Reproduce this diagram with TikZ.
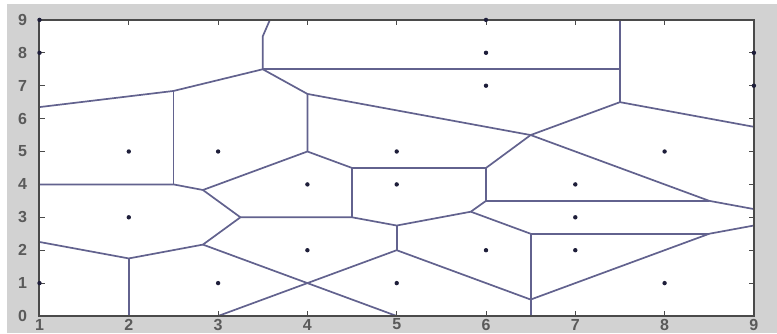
\documentclass[tikz,border=0pt]{standalone}
\usepackage{fontspec}
\setmainfont{Liberation Sans}
\definecolor{figgray}{HTML}{D2D2D2}
\definecolor{framecol}{HTML}{4A4A4A}
\definecolor{vorcol}{HTML}{62628E}
\definecolor{dotcol}{HTML}{1E1E3A}
\definecolor{labcol}{HTML}{5A5A5A}
\tikzset{
  vor/.style={draw=vorcol, line width=0.85pt, line join=round},
  frame/.style={draw=framecol, line width=1pt},
  tickmark/.style={draw=framecol, line width=0.5pt},
  seed/.style={circle, fill=dotcol, inner sep=0pt, minimum size=2.2pt},
  ylab/.style={font=\fontsize{8}{8}\selectfont\bfseries, text=labcol, inner sep=0pt},
  xlab/.style={font=\fontsize{8}{8}\selectfont\bfseries, text=labcol, inner sep=0pt}
}
\begin{document}
\begin{tikzpicture}[x=44.65pt, y=16.45pt]
\useasboundingbox (0.5577,-0.5167) rectangle (9.2587,9.6049);
\fill[white] (0.5577,-0.5167) rectangle (9.2587,9.6049);
\fill[figgray] (0.636,-0.5167) rectangle (9.2587,9.483);
\fill[white] (1,0) rectangle (9,9);
% ticks
\foreach \i in {1,...,9} {
  \draw[tickmark] (\i,0) -- (\i,0.15);
  \draw[tickmark] (\i,9) -- (\i,8.85);
  \node[xlab] (xl\i) at (\i,-0.26) {\i};
}
\foreach \j in {0,...,9} {
  \draw[tickmark] (1,\j) -- (1.06,\j);
  \draw[tickmark] (9,\j) -- (8.94,\j);
  \node[ylab] (yl\j) at (0.81,\j) {\j};
}
% Voronoi edges
\draw[vor] (1,6.35) -- (2.5,6.84) -- (3.5,7.5);
\draw[vor] (2.5,6.84) -- (2.5,4);
\draw[vor] (1,4) -- (2.5,4) -- (2.83,3.83) -- (3.25,3) -- (2.83,2.17) -- (2,1.75) -- (1,2.25);
\draw[vor] (2,1.75) -- (2,0);
\draw[vor] (2.83,3.83) -- (4,5) -- (4.5,4.5) -- (4.5,3);
\draw[vor] (3.25,3) -- (4.5,3) -- (5,2.75) -- (5.83,3.17) -- (6,3.5) -- (6,4.5) -- (4.5,4.5);
\draw[vor] (5,2.75) -- (5,2);
\draw[vor] (3,0) -- (5,2) -- (6.5,0.5) -- (8.5,2.5) -- (9,2.75);
\draw[vor] (2.83,2.17) -- (5,0);
\draw[vor] (6.5,0) -- (6.5,2.5) -- (8.5,2.5);
\draw[vor] (5.83,3.17) -- (6.5,2.5);
\draw[vor] (6,3.5) -- (8.5,3.5);
\draw[vor] (6,4.5) -- (6.5,5.5) -- (8.5,3.5) -- (9,3.25);
\draw[vor] (4,6.75) -- (6.5,5.5) -- (7.5,6.5) -- (9,5.75);
\draw[vor] (7.5,6.5) -- (7.5,9);
\draw[vor] (3.5,7.5) -- (7.5,7.5);
\draw[vor] (3.5,7.5) -- (4,6.75) -- (4,5);
\draw[vor] (3.58,9) -- (3.5,8.5) -- (3.5,7.5);
% frame
\draw[frame] (1,0) rectangle (9,9);
% seed points
\foreach \p/\q [count=\k] in {2/5,3/5,5/5,6/8,6/7,4/4,5/4,7/4,8/5,2/3,7/3,4/2,6/2,7/2,3/1,5/1,8/1,9/8,9/7,1/9,1/8,1/1,6/9} {
  \node[seed] (s\k) at (\p,\q) {};
}
\end{tikzpicture}
\end{document}
